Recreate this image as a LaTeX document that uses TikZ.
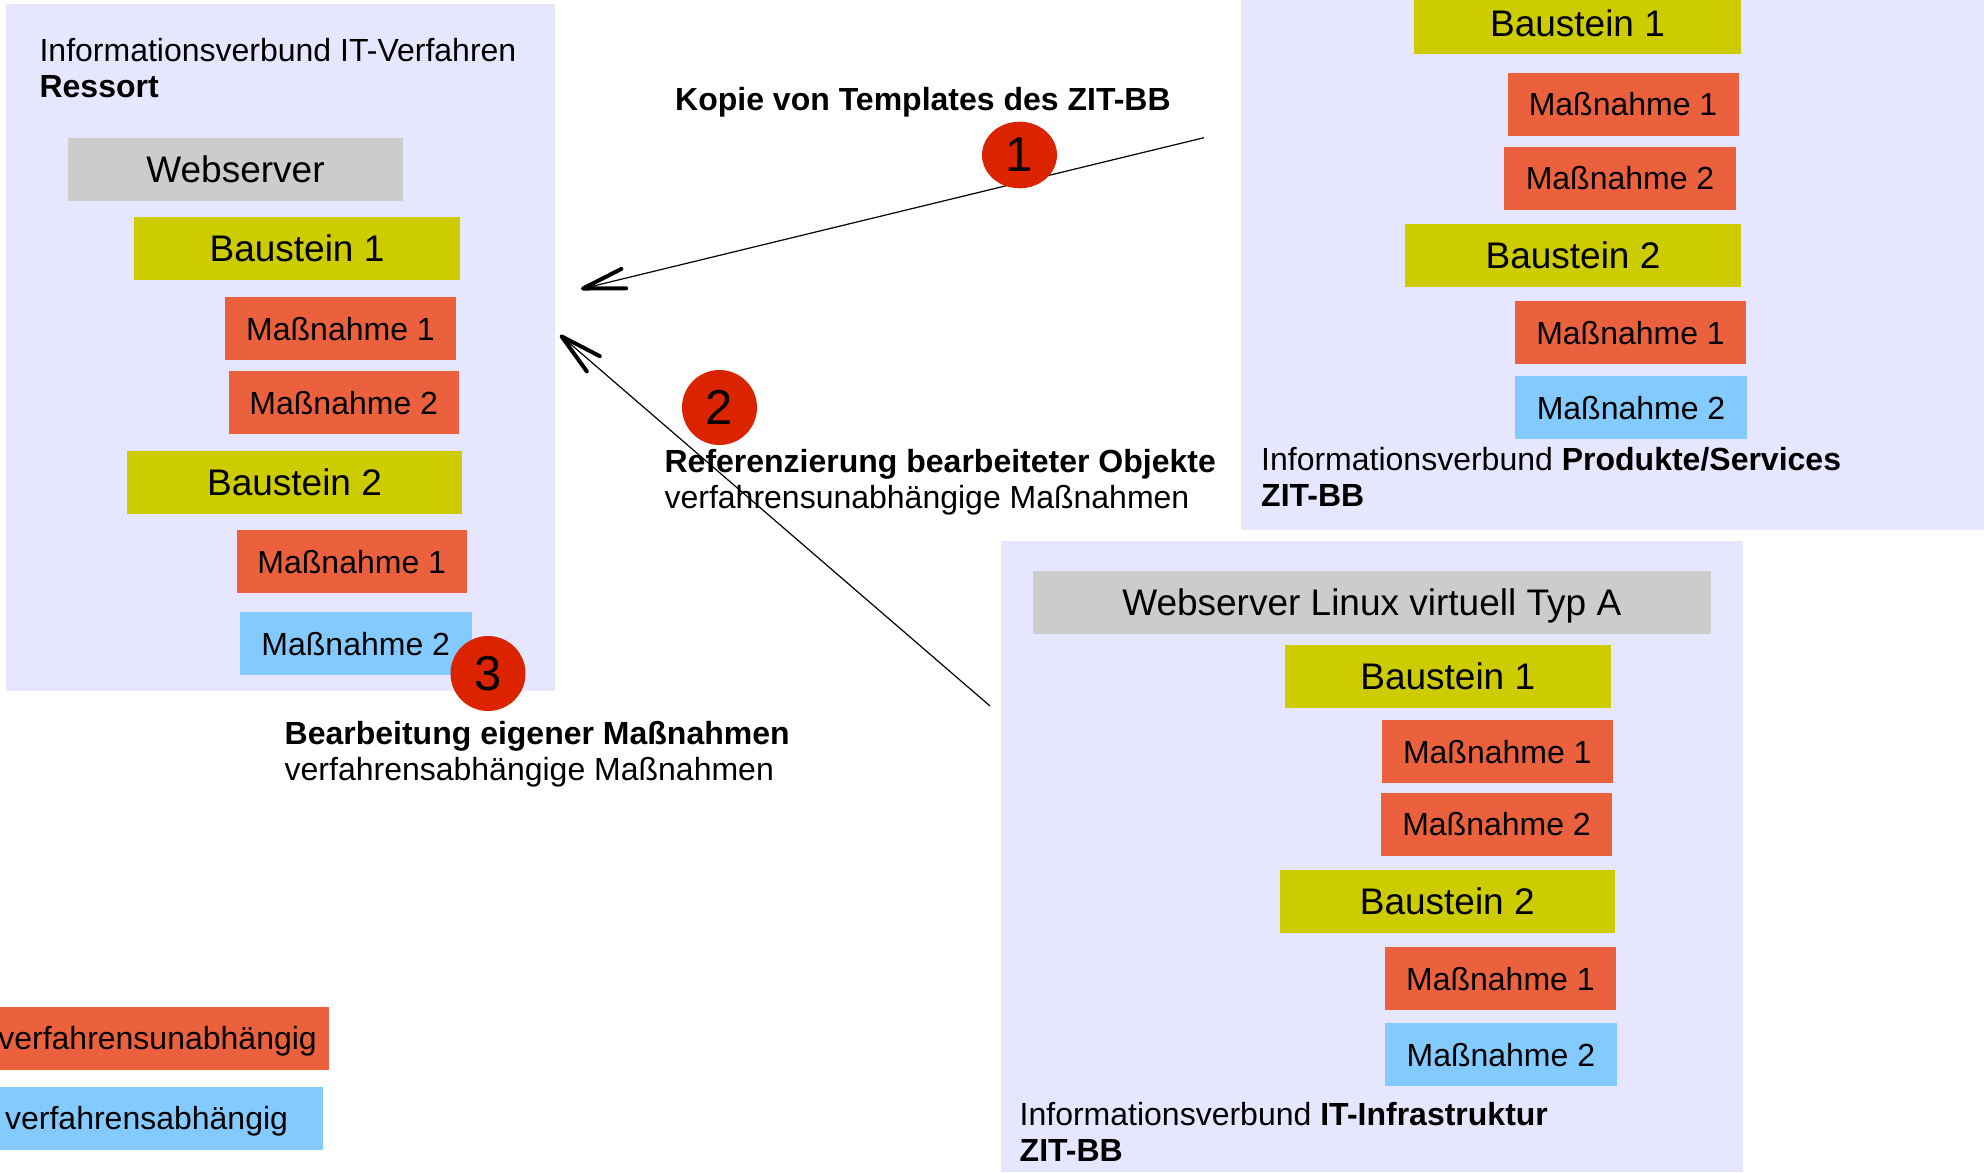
\documentclass[tikz,border=0pt]{standalone}
\usepackage{fontspec}
\setmainfont{Liberation Sans}
\usetikzlibrary{
    arrows.meta,
    shapes.geometric
}
\definecolor{PanelBlue}{RGB}{230,230,255}
\definecolor{SrvGray}{RGB}{204,204,204}
\definecolor{BstYellow}{RGB}{204,204,0}
\definecolor{MsnRed}{RGB}{235,97,61}
\definecolor{MsnBlue}{RGB}{131,202,255}
\definecolor{NumRed}{RGB}{220,35,0}
\tikzset{
  srv/.style  = {fill=SrvGray, minimum height=63pt, inner sep=0pt,
                 text depth=0pt, font=\fontsize{37}{40}\selectfont},
  bst/.style  = {srv, fill=BstYellow},
  msn/.style  = {fill=MsnRed, minimum height=63pt, inner sep=0pt,
                 text depth=0pt, font=\fontsize{32}{36}\selectfont},
  msnv/.style = {msn, fill=MsnBlue},
  num/.style  = {circle, fill=NumRed, minimum size=75pt, inner sep=0pt,
                 text depth=0pt, font=\fontsize{49}{49}\selectfont},
  lbl/.style  = {anchor=base west, inner sep=0pt, align=left,
                 font=\fontsize{32}{35.7}\selectfont},
  arr/.style  = {-{Straight Barb[length=42pt,width=20pt,line width=4pt,round]},
                 line width=1.2pt}
}

\begin{document}
\begin{tikzpicture}[x=1pt,y=-1pt]
\useasboundingbox (0,0) rectangle (1988,1172);
\fill[PanelBlue] (6,4) rectangle (555,690.5);
\fill[PanelBlue] (1241,0) rectangle (1984,529.6);
\fill[PanelBlue] (1000.5,541) rectangle (1742.5,1172);

\node[lbl] (ltitle) at (39.4,97.3) {Informationsverbund IT-Verfahren\\\textbf{Ressort}};
\node[srv, minimum width=335pt] (lweb) at (235.5,169.5) {Webserver};
\node[bst, minimum width=326pt] (lb1) at (297,248) {Baustein 1};
\node[msn, minimum width=231pt] (lb1m1) at (340.5,328.5) {Maßnahme 1};
\node[msn, minimum width=230.5pt] (lb1m2) at (343.75,402.5) {Maßnahme 2};
\node[bst, minimum width=335pt] (lb2) at (294.5,482) {Baustein 2};
\node[msn, minimum width=230.5pt] (lb2m1) at (351.75,561.5) {Maßnahme 1};
\node[msnv, minimum width=231.5pt] (lb2m2) at (355.75,643.5) {Maßnahme 2};

\node[bst, minimum width=327pt] (pb1) at (1577.5,23) {Baustein 1};
\node[msn, minimum width=231pt] (pb1m1) at (1623,104) {Maßnahme 1};
\node[msn, minimum width=231.7pt] (pb1m2) at (1620,178) {Maßnahme 2};
\node[bst, minimum width=336pt] (pb2) at (1573,255) {Baustein 2};
\node[msn, minimum width=231pt] (pb2m1) at (1630.5,332.5) {Maßnahme 1};
\node[msnv, minimum width=232pt] (pb2m2) at (1631,407.5) {Maßnahme 2};
\node[lbl] (ptitle) at (1261,506.4) {Informationsverbund \textbf{Produkte/Services}\\\textbf{ZIT-BB}};

\node[srv, minimum width=677.5pt] (iweb) at (1371.75,602.5) {Webserver Linux virtuell Typ A};
\node[bst, minimum width=326.5pt] (ib1) at (1447.75,676.5) {Baustein 1};
\node[msn, minimum width=231pt] (ib1m1) at (1497.25,751.5) {Maßnahme 1};
\node[msn, minimum width=231pt] (ib1m2) at (1496.5,824.3) {Maßnahme 2};
\node[bst, minimum width=335.5pt] (ib2) at (1447.25,901) {Baustein 2};
\node[msn, minimum width=231pt] (ib2m1) at (1500.4,978.5) {Maßnahme 1};
\node[msnv, minimum width=231.7pt] (ib2m2) at (1500.85,1054.5) {Maßnahme 2};
\node[lbl] (ititle) at (1019.5,1161) {Informationsverbund \textbf{IT-Infrastruktur}\\\textbf{ZIT-BB}};

\node[lbl] (kopie) at (675,110) {\textbf{Kopie von Templates des ZIT-BB}};
\node[lbl] (refz) at (664.4,508.4) {\textbf{Referenzierung bearbeiteter Objekte}\\verfahrensunabhängige Maßnahmen};
\node[lbl] (bearb) at (284.5,780) {\textbf{Bearbeitung eigener Maßnahmen}\\verfahrensabhängige Maßnahmen};

\node[msn, anchor=east, inner xsep=12pt] (legu) at (329,1038) {verfahrensunabhängig};
\node[msnv, anchor=east, inner xsep=34.5pt] (legv) at (322.7,1118.3) {verfahrensabhängig};

\coordinate (src1) at (1204,137.7);
\coordinate (dst1) at (581,289);
\coordinate (src2) at (990,706);
\coordinate (dst2) at (560,335);
\draw[arr] (src1) -- (dst1);
\draw[arr] (src2) -- (dst2);

\node[num, ellipse, minimum width=75pt, minimum height=66.6pt] (n1) at (1019.5,155) {1};
\node[num] (n2) at (719.5,407.5) {2};
\node[num] (n3) at (488,673.5) {3};
\end{tikzpicture}
\end{document}
